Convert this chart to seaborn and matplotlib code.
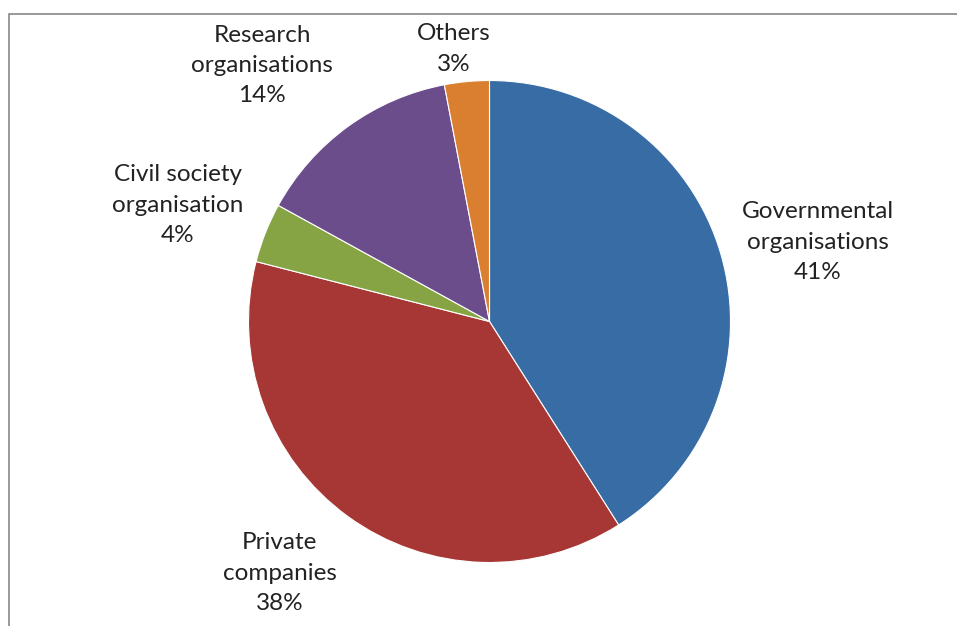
import numpy as np
import matplotlib
matplotlib.use("Agg")
import matplotlib.pyplot as plt
import seaborn as sns
from matplotlib.patches import Rectangle

# slice data, clockwise from 12 o'clock
categories = ["Governmental\norganisations", "Private\ncompanies", "Civil society\norganisation",
              "Research\norganisations", "Others"]
shares = [41, 38, 4, 14, 3]
slice_colors = ["#386ca5", "#a73734", "#86a443", "#6b4d8b", "#da7f2f"]

# label placement tweaks (radius factor, angle nudge in degrees)
label_dist = [1.40, 1.36, 1.38, 1.42, 1.14]
label_nudge = [-2.6, -3.8, 1.1, 5.6, 2.0]

sns.set_theme(style="white")
plt.rcParams["font.family"] = ["Lato", "DejaVu Sans"]

W, H, DPI = 957, 626, 100
fig = plt.figure(figsize=(W / DPI, H / DPI), dpi=DPI)
ax = fig.add_axes([0, 0, 1, 1])

wedges, _ = ax.pie(shares, colors=sns.color_palette(slice_colors), startangle=90,
                   counterclock=False, radius=1,
                   wedgeprops=dict(edgecolor="white", linewidth=0.8))

for w, cat, val, d, nudge in zip(wedges, categories, shares, label_dist, label_nudge):
    mid = np.deg2rad((w.theta1 + w.theta2) / 2 + nudge)
    ax.text(d * np.cos(mid), d * np.sin(mid), f"{cat}\n{val}%", ha="center", va="center",
            fontsize=17.5, color="#222222", linespacing=1.55)

# map data units to pixels: centre at (489.5, 321.5) px, radius 241 px
cx, cy, r = 489.5, 321.5, 241.0
ax.set_xlim(-cx / r, (W - cx) / r)
ax.set_ylim(-(H - cy) / r, cy / r)
ax.set_aspect("auto")
ax.axis("off")

# chart border (cropped on right and bottom)
fig.patches.append(Rectangle((8.5 / W, -0.05), 1.2, 1.05 - 13.5 / H, transform=fig.transFigure,
                             fill=False, edgecolor="#878787", linewidth=1.2))

fig.savefig("out.png", dpi=DPI)
